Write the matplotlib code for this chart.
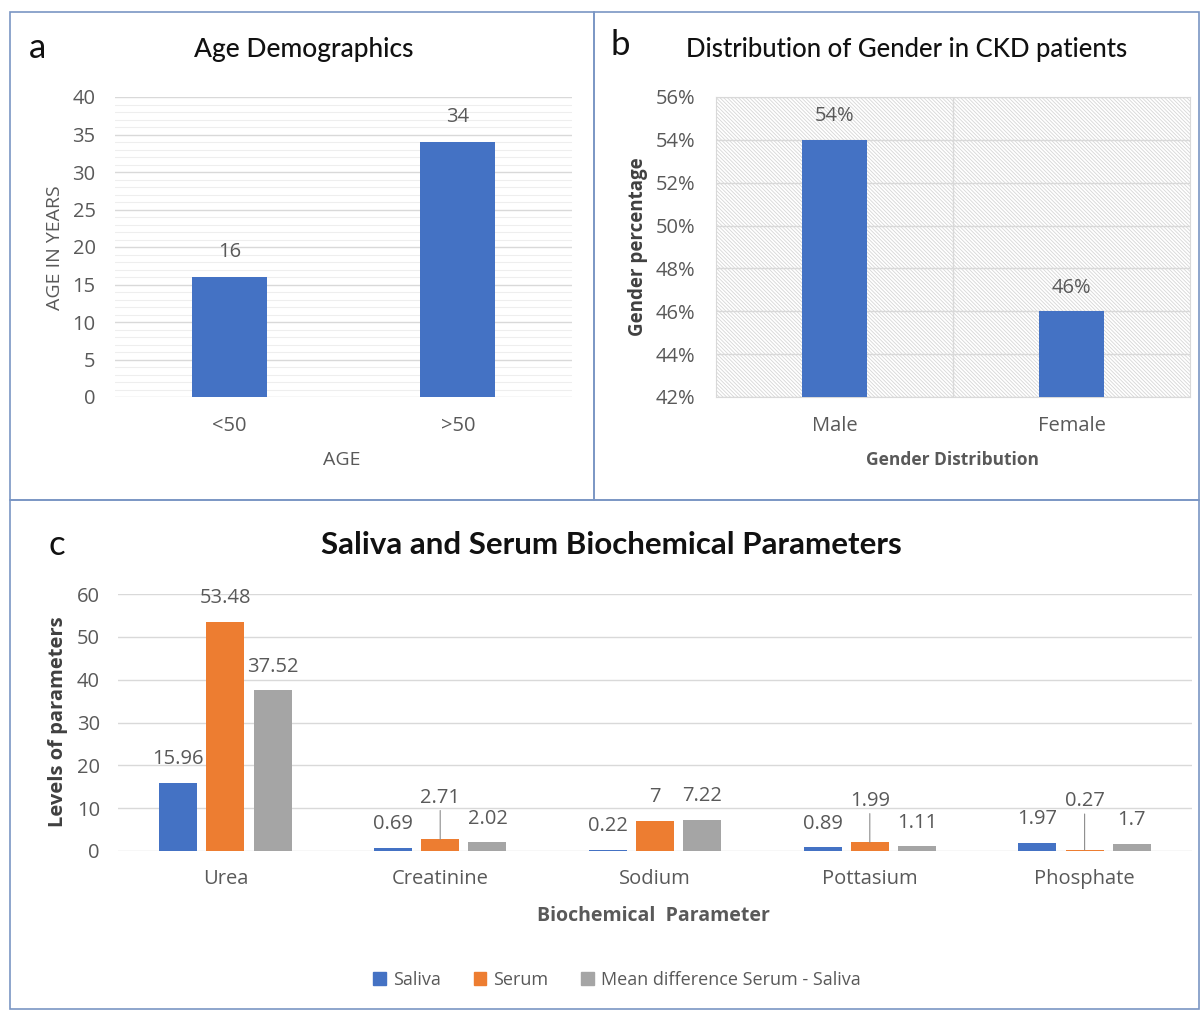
import matplotlib
matplotlib.use("Agg")
import matplotlib.pyplot as plt
import numpy as np
from matplotlib.patches import Rectangle, Patch
from matplotlib.ticker import PercentFormatter

plt.rcParams['font.family'] = ['Open Sans', 'DejaVu Sans']
plt.rcParams['hatch.linewidth'] = 0.6
TITLE_FONT = ['Lato', 'DejaVu Sans']

# data
age_groups = ['<50', '>50']
age_counts = [16, 34]

genders = ['Male', 'Female']
gender_share = [0.54, 0.46]

params = ['Urea', 'Creatinine', 'Sodium', 'Pottasium', 'Phosphate']
saliva = [15.96, 0.69, 0.22, 0.89, 1.97]
serum = [53.48, 2.71, 7, 1.99, 0.27]
mean_diff = [37.52, 2.02, 7.22, 1.11, 1.7]

BLUE = '#4472C4'
ORANGE = '#ED7D31'
GREY = '#A5A5A5'
TXT = '#595959'
BOX = '#7a96c4'
FS = 14.5  # tick / value labels

fig = plt.figure(figsize=(12, 10.1), dpi=100)
W, H = 1200, 1010


def fx(px):
    return px / W


def fy(py):
    return 1 - py / H


# panel frames
for (x0, y0, x1, y1) in [(10, 12, 594, 500), (594, 12, 1199, 500), (10, 500, 1199, 1009)]:
    fig.add_artist(Rectangle((fx(x0), fy(y1)), fx(x1) - fx(x0), fy(y0) - fy(y1),
                             transform=fig.transFigure, fill=False, edgecolor=BOX, lw=1.2))

# ---- a: age ----
axa = fig.add_axes([fx(115), fy(397), fx(572) - fx(115), fy(97) - fy(397)])
xa = np.arange(len(age_groups))
axa.bar(xa, age_counts, width=0.33, color=BLUE, zorder=3)
axa.set_xlim(-0.5, 1.5)
axa.set_ylim(0, 40)
axa.set_yticks(np.arange(0, 41, 5))
axa.set_yticks(np.arange(0, 41, 1), minor=True)
axa.grid(axis='y', which='major', color='#d9d9d9', lw=1.0, zorder=0)
axa.grid(axis='y', which='minor', color='#eeeeee', lw=0.8, zorder=0)
axa.set_xticks(xa)
axa.set_xticklabels(age_groups)
for s in axa.spines.values():
    s.set_visible(False)
axa.tick_params(axis='both', which='both', length=0, labelsize=FS, labelcolor=TXT)
axa.tick_params(axis='x', pad=14)
axa.tick_params(axis='y', pad=14)
for x, v in zip(xa, age_counts):
    axa.annotate(str(v), (x, v), xytext=(0, 18), textcoords='offset points',
                 ha='center', va='center', fontsize=FS, color=TXT)
fig.text(fx(304), fy(50), 'Age Demographics', ha='center', va='center', fontsize=19,
         color='#111111', family=TITLE_FONT, fontweight='medium')
fig.text(fx(38), fy(48), 'a', ha='center', va='center', fontsize=25, color='#111111',
         family=TITLE_FONT)
fig.text(fx(55), fy(248), 'AGE IN YEARS', ha='center', va='center', rotation=90,
         fontsize=14, color=TXT)
fig.text(fx(342), fy(460), 'AGE', ha='center', va='center', fontsize=14, color=TXT)

# ---- b: gender ----
axb = fig.add_axes([fx(716), fy(397), fx(1190) - fx(716), fy(97) - fy(397)])
axb.add_patch(Rectangle((0, 0), 1, 1, transform=axb.transAxes, fill=False,
                        hatch='\\' * 9, edgecolor='#d6d6d6', lw=0, zorder=0))
xb = np.arange(len(genders))
axb.bar(xb, gender_share, width=0.275, color=BLUE, zorder=3)
axb.set_xlim(-0.5, 1.5)
axb.set_ylim(0.42, 0.56)
axb.set_yticks(np.arange(0.42, 0.5601, 0.02))
axb.yaxis.set_major_formatter(PercentFormatter(1.0, decimals=0))
axb.grid(axis='y', color='#d9d9d9', lw=1.0, zorder=1)
axb.axvline(0.5, color='#d9d9d9', lw=1.0, zorder=1)
axb.set_xticks(xb)
axb.set_xticklabels(genders)
for s in axb.spines.values():
    s.set_color('#d9d9d9')
axb.tick_params(axis='both', length=0, labelsize=FS, labelcolor=TXT)
axb.tick_params(axis='x', pad=14)
axb.tick_params(axis='y', pad=15)
for x, v in zip(xb, gender_share):
    axb.annotate('%d%%' % round(v * 100), (x, v), xytext=(0, 17), textcoords='offset points',
                 ha='center', va='center', fontsize=FS, color=TXT)
fig.text(fx(907), fy(50), 'Distribution of Gender in CKD patients', ha='center', va='center',
         fontsize=18.5, color='#111111', family=TITLE_FONT, fontweight='medium')
fig.text(fx(620), fy(45), 'b', ha='center', va='center', fontsize=25, color='#111111',
         family=TITLE_FONT)
fig.text(fx(638), fy(247), 'Gender percentage', ha='center', va='center', rotation=90,
         fontsize=13.5, color='#404040', fontweight='bold')
fig.text(fx(953), fy(460), 'Gender Distribution', ha='center', va='center', fontsize=12.5,
         color=TXT, fontweight='bold')

# ---- c: biochemical ----
axc = fig.add_axes([fx(118), fy(851), fx(1192) - fx(118), fy(594) - fy(851)])
xc = np.arange(len(params))
series = [(saliva, BLUE, 'Saliva'), (serum, ORANGE, 'Serum'),
          (mean_diff, GREY, 'Mean difference Serum - Saliva')]
for i, (vals, col, name) in enumerate(series):
    off = (i - 1) * 0.22
    axc.bar(xc + off, vals, width=0.177, color=col, zorder=3, label=name)
    for x, v in zip(xc + off, vals):
        lab = '%g' % v
        if col == ORANGE and v < 5:
            dy = 30 if v > 1 else 35
            axc.annotate(lab, (x, v), xytext=(0, dy), textcoords='offset points',
                         ha='center', va='center', fontsize=FS, color=TXT,
                         arrowprops=dict(arrowstyle='-', color='#8c8c8c', lw=0.8,
                                         shrinkA=0, shrinkB=0))
        else:
            axc.annotate(lab, (x, v), xytext=(0, 17), textcoords='offset points',
                         ha='center', va='center', fontsize=FS, color=TXT)
axc.set_xlim(-0.5, 4.5)
axc.set_ylim(0, 60)
axc.set_yticks(np.arange(0, 61, 10))
axc.grid(axis='y', color='#d9d9d9', lw=1.0, zorder=0)
axc.set_xticks(xc)
axc.set_xticklabels(params)
for s in axc.spines.values():
    s.set_visible(False)
axc.tick_params(axis='both', length=0, labelsize=FS, labelcolor=TXT)
axc.tick_params(axis='x', pad=13)
axc.tick_params(axis='y', pad=13)
fig.text(fx(611), fy(545), 'Saliva and Serum Biochemical Parameters', ha='center', va='center',
         fontsize=22.5, color='#111111', fontweight='bold', family=TITLE_FONT)
fig.text(fx(57), fy(545), 'c', ha='center', va='center', fontsize=25, color='#111111',
         family=TITLE_FONT)
fig.text(fx(58), fy(722), 'Levels of parameters', ha='center', va='center', rotation=90,
         fontsize=14.5, color='#404040', fontweight='bold')
fig.text(fx(653), fy(916), 'Biochemical  Parameter', ha='center', va='center', fontsize=14,
         color=TXT, fontweight='bold')

handles = [Patch(color=c, label=n) for _, c, n in series]
fig.legend(handles=handles, loc='center', bbox_to_anchor=(fx(617), fy(980)), ncol=3,
           frameon=False, fontsize=13, labelcolor=TXT, handlelength=0.7, handleheight=0.7,
           handletextpad=0.4, columnspacing=1.8)

fig.savefig('out.png', dpi=100)
